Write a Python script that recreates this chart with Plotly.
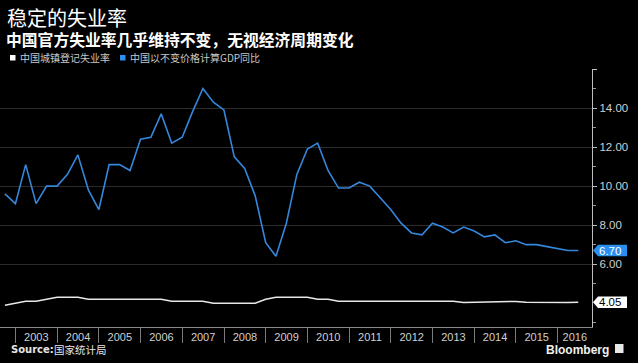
import plotly.graph_objects as go
import pandas as pd

# ---- data (quarterly, quarter-end dates) ----
QUARTERS = pd.date_range("2002-09-30", periods=56, freq="QE")

GDP_YOY = [
    9.6, 9.1,
    11.1, 9.1, 10.0, 10.0,
    10.6, 11.6, 9.8, 8.8,
    11.1, 11.1, 10.8, 12.4,
    12.5, 13.7, 12.2, 12.5,
    13.8, 15.0, 14.3, 13.9,
    11.5, 10.9, 9.5, 7.1,
    6.4, 8.1, 10.6, 11.9,
    12.2, 10.8, 9.9, 9.9,
    10.2, 10.0, 9.4, 8.8,
    8.1, 7.6, 7.5, 8.1,
    7.9, 7.6, 7.9, 7.7,
    7.4, 7.5, 7.1, 7.2,
    7.0, 7.0, 6.9, 6.8,
    6.7, 6.7,
]

UNEMPLOYMENT = [
    3.9, 4.0,
    4.1, 4.1, 4.2, 4.3,
    4.3, 4.3, 4.2, 4.2,
    4.2, 4.2, 4.2, 4.2,
    4.2, 4.2, 4.1, 4.1,
    4.1, 4.1, 4.0, 4.0,
    4.0, 4.0, 4.0, 4.2,
    4.3, 4.3, 4.3, 4.3,
    4.2, 4.2, 4.1, 4.1,
    4.1, 4.1, 4.1, 4.1,
    4.1, 4.1, 4.1, 4.1,
    4.1, 4.1, 4.04, 4.05,
    4.08, 4.08, 4.07, 4.09,
    4.05, 4.04, 4.05, 4.05,
    4.04, 4.05,
]

YEARS = list(range(2003, 2017))
GRID_YEARS = [2004, 2006, 2008, 2010, 2012, 2014, 2016]
Y_TICKS = [6, 8, 10, 12, 14, 16]
Y_MINOR = [3, 5, 7, 9, 11, 13, 15]

TITLE = "稳定的失业率"
SUBTITLE = "中国官方失业率几乎维持不变，无视经济周期变化"
LEGEND_UNEMP = "中国城镇登记失业率"
LEGEND_GDP = "中国以不变价格计算GDP同比"

# ---- layout constants ----
W, H = 638, 363
ML, MR, MT, MB = 0, 46, 69, 36
PW, PH = W - ML - MR, H - MT - MB
X_RANGE = ["2002-08-18", "2016-10-28"]
Y_RANGE = [2.78, 16]

BLUE = "#3587dc"
BLUE_BOX = "#2b8ff0"
WHITE_LINE = "#e8e8e8"
GRID = "#2c2c2c"
TXT = "#d0d0d0"
CJK = "Noto Sans CJK SC"
LAT = "Liberation Sans"


def px(x):
    return (x - ML) / PW


def py(y):
    return (MT + PH - y) / PH


fig = go.Figure()
fig.add_trace(go.Scatter(x=QUARTERS, y=UNEMPLOYMENT, mode="lines",
                         line=dict(color=WHITE_LINE, width=1.5),
                         name=LEGEND_UNEMP, showlegend=False))
fig.add_trace(go.Scatter(x=QUARTERS, y=GDP_YOY, mode="lines",
                         line=dict(color=BLUE, width=1.6),
                         name=LEGEND_GDP, showlegend=False))

year_starts = [pd.Timestamp(f"{y}-01-01") for y in YEARS]
mid_vals = [pd.Timestamp(f"{y}-07-02") for y in YEARS[:-1]]
last_start = pd.Timestamp(f"{YEARS[-1]}-01-01")
mid_vals.append(last_start + (pd.Timestamp(X_RANGE[1]) - last_start) / 2)

fig.update_layout(
    width=W, height=H, autosize=False,
    margin=dict(l=ML, r=MR, t=MT, b=MB),
    paper_bgcolor="#000000", plot_bgcolor="#000000",
    showlegend=False,
    xaxis=dict(
        type="date", range=X_RANGE,
        tickmode="array", tickvals=mid_vals, ticktext=[str(y) for y in YEARS],
        ticks="outside", ticklen=0,
        tickfont=dict(family=LAT, size=11, color=TXT),
        showgrid=False, zeroline=False,
        showline=True, linecolor="#8a8a8a", linewidth=1,
        minor=dict(tickmode="array", tickvals=year_starts, ticks="outside",
                   ticklen=15, tickcolor="#7a7a7a", tickwidth=1, showgrid=False),
    ),
    xaxis2=dict(
        type="date", overlaying="x", matches="x", anchor="y", side="bottom",
        tickmode="array", tickvals=[pd.Timestamp(f"{y}-01-01") for y in GRID_YEARS],
        showticklabels=False, ticks="", showline=False,
        showgrid=True, gridcolor=GRID, gridwidth=1, zeroline=False,
    ),
    yaxis=dict(
        side="right", range=Y_RANGE,
        tickmode="array", tickvals=Y_TICKS,
        ticktext=[f"{v:.2f}" if v != 16 else "" for v in Y_TICKS],
        ticks="outside", ticklen=4, tickcolor="#bdbdbd",
        tickfont=dict(family=LAT, size=11.5, color=TXT),
        showgrid=True, gridcolor=GRID, gridwidth=1, zeroline=False,
        showline=True, linecolor="#bdbdbd", linewidth=1.2,
        minor=dict(tickmode="array", tickvals=Y_MINOR, ticks="outside",
                   ticklen=3, tickcolor="#9a9a9a", showgrid=False),
    ),
)

annotations = [
    dict(text=TITLE, x=px(5), y=py(17.5), xanchor="left", yanchor="middle",
         font=dict(family=CJK, size=20, color="#ffffff")),
    dict(text=f"<b>{SUBTITLE}</b>", x=px(4), y=py(39.5), xanchor="left", yanchor="middle",
         font=dict(family=CJK, size=15.8, color="#ffffff")),
    dict(text=LEGEND_UNEMP, x=px(17.5), y=py(58), xanchor="left", yanchor="middle",
         font=dict(family=CJK, size=10, color="#c8c8c8")),
    dict(text=LEGEND_GDP, x=px(127.5), y=py(58), xanchor="left", yanchor="middle",
         font=dict(family=CJK, size=10, color="#c8c8c8")),
    dict(text="<b>Source:</b>", x=px(8.5), y=py(349.5), xanchor="left", yanchor="middle",
         font=dict(family="DejaVu Sans", size=10, color="#e6e6e6")),
    dict(text="国家统计局", x=px(52), y=py(349.5), xanchor="left", yanchor="middle",
         font=dict(family=CJK, size=10.5, color="#e6e6e6")),
    dict(text="<b>Bloomberg</b>", x=px(611), y=py(349.5), xanchor="right", yanchor="middle",
         font=dict(family=LAT, size=12, color="#f0f0f0")),
    dict(text=f"{GDP_YOY[-1]:.2f}", x=1, xshift=5, y=GDP_YOY[-1], yref="y",
         xanchor="left", yanchor="middle",
         font=dict(family=LAT, size=11.5, color="#ffffff")),
    dict(text=f"{UNEMPLOYMENT[-1]:.2f}", x=1, xshift=5, y=UNEMPLOYMENT[-1], yref="y",
         xanchor="left", yanchor="middle",
         font=dict(family=LAT, size=11.5, color="#000000")),
]
for a in annotations:
    a.setdefault("xref", "paper")
    a.setdefault("yref", "paper")
    a["showarrow"] = False
fig.update_layout(annotations=annotations)

label_path = "M1,0 L6,-5.8 L35,-5.8 L35,5.8 L6,5.8 Z"
shapes = [
    dict(type="rect", xref="paper", yref="paper", x0=px(10), x1=px(15.5),
         y0=py(60.5), y1=py(55), fillcolor="#ffffff", line=dict(width=0)),
    dict(type="rect", xref="paper", yref="paper", x0=px(120), x1=px(125.5),
         y0=py(60.5), y1=py(55), fillcolor=BLUE_BOX, line=dict(width=0)),
    dict(type="path", xref="paper", yref="y", xsizemode="pixel", ysizemode="pixel",
         xanchor=1, yanchor=GDP_YOY[-1], path=label_path,
         fillcolor=BLUE_BOX, line=dict(width=0), layer="above"),
    dict(type="path", xref="paper", yref="y", xsizemode="pixel", ysizemode="pixel",
         xanchor=1, yanchor=UNEMPLOYMENT[-1], path=label_path,
         fillcolor="#ffffff", line=dict(width=0), layer="above"),
    dict(type="rect", xref="paper", yref="paper", x0=px(615), x1=px(623.5),
         y0=py(353), y1=py(344), fillcolor="#e8e8e8", line=dict(width=0)),
]
fig.update_layout(shapes=shapes)

fig.write_html(
    "out.html",
    config={"displayModeBar": False},
    post_script="document.body.style.margin='0';document.body.style.overflow='hidden';",
)
